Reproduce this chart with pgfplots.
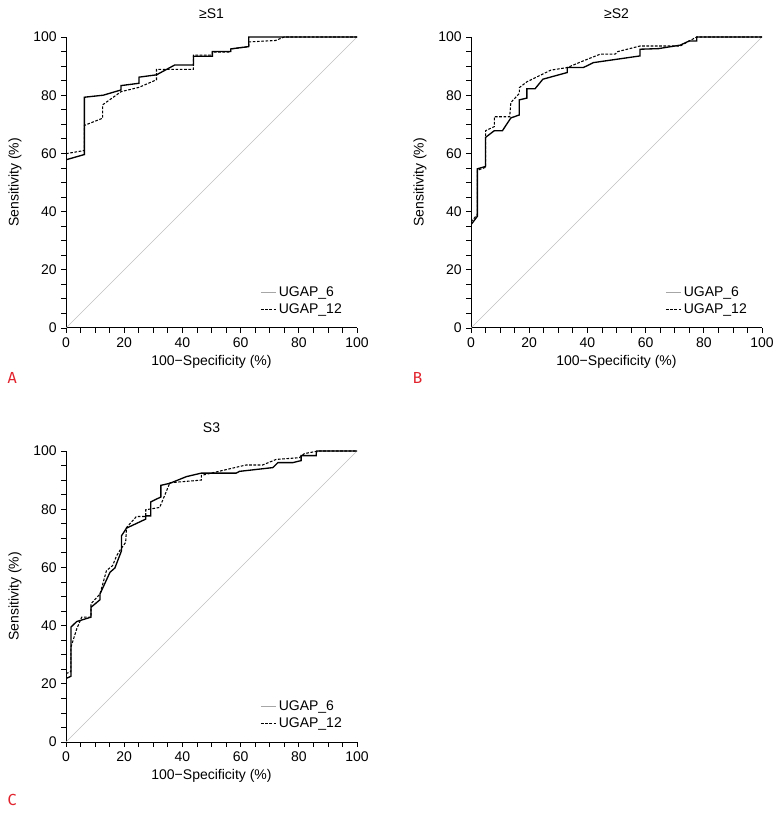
\documentclass[border=0pt]{standalone}
\usepackage{pgfplots}
\pgfplotsset{compat=1.18}
\usepackage{fontspec}
\setmainfont{Liberation Sans}
\newfontfamily\letterfont{Fira Sans}
\definecolor{panelred}{RGB}{225,35,45}

\pgfplotsset{
  roc/.style={
    scale only axis,
    width=218.25pt, height=218.25pt,
    xmin=0, xmax=100, ymin=0, ymax=100,
    axis lines*=left,
    axis line style={-, line width=0.75pt},
    xtick={0,20,...,100}, ytick={0,20,...,100},
    minor tick num=3,
    tick align=outside,
    major tick length=3.5pt, minor tick length=3.5pt,
    tick style={line width=0.6pt, black},
    /pgf/number format/assume math mode=true,
    tick label style={font=\fontsize{10.5}{12}\selectfont},
    label style={font=\fontsize{10.5}{12}\selectfont},
    title style={font=\fontsize{10.5}{12}\selectfont, at={(0.5,1.052)}, anchor=center},
    xlabel={100\textminus Specificity (\%)},
    ylabel={Sensitivity (\%)},
    xlabel style={at={(0.5,-0.117)}, anchor=center},
    ylabel style={at={(-0.175,0.5)}, anchor=center},
    legend style={draw=none, fill=none, at={(0.667,0.152)}, anchor=north west,
      font=\fontsize{10.5}{12}\selectfont, inner sep=0pt, row sep=0pt},
    legend cell align=left,
    legend image code/.code={\draw[#1] (0pt,0pt) -- (11pt,0pt);},
  },
  solidroc/.style={black, line width=1pt, solid},
  dashroc/.style={black, line width=0.8pt, dash pattern=on 2pt off 1.2pt},
  diag/.style={gray!50, line width=0.5pt},
}

\begin{document}
\begin{tikzpicture}[x=0.75pt, y=0.75pt]
\useasboundingbox (0,0) rectangle (781,815);

% A
\begin{axis}[roc, at={(49.5pt,365.25pt)}, anchor=south west, title={≥S1}]
\addplot[diag, forget plot] coordinates {(0,0) (100,100)};
\addplot[solidroc, forget plot] coordinates {
(0,57.8)(6.3,59.6)(6.3,79.3)(12.8,80)(18.9,81.8)(18.9,83.3)(25.1,84.1)(25.1,86.2)
(31.1,87)(37.4,90.4)(43.8,90.4)(43.8,93.4)(50.3,93.4)(50.3,95)(56.6,95)(56.6,95.9)
(62.8,96.7)(62.8,100)(100,100)};
\addplot[dashroc, forget plot] coordinates {
(0,59.9)(6.3,61)(6.3,69.6)(12.6,72.1)(12.6,76.7)(18.9,81.2)(25.1,82.7)(31.1,85.3)
(31.1,88.9)(43.8,88.9)(43.8,93.8)(50.3,93.8)(50.3,94.8)(56.6,94.8)(56.6,95.9)
(62.8,96.7)(62.8,98.3)(72,98.8)(75,100)(100,100)};
\addlegendimage{gray!70, line width=0.8pt}
\addlegendentry{UGAP\_6}
\addlegendimage{dashroc}
\addlegendentry{UGAP\_12}
\end{axis}

% B
\begin{axis}[roc, at={(353.25pt,365.25pt)}, anchor=south west, title={≥S2}]
\addplot[diag, forget plot] coordinates {(0,0) (100,100)};
\addplot[solidroc, forget plot] coordinates {
(0,35.5)(2.2,38.4)(2.2,54.7)(5.0,55.5)(5.0,65.5)(8.0,67.8)(10.8,67.8)(13.7,72.2)
(16.6,73.2)(16.6,78.4)(19.2,79)(19.2,82.2)(22.0,82.2)(24.7,85.5)(33.1,87.8)
(33.1,89.5)(38.6,89.5)(42.1,91.2)(58.1,93.5)(58.1,95.8)(64.4,96)(71.9,97.2)
(74.9,98.6)(77.6,98.6)(77.6,100)(100,100)};
\addplot[dashroc, forget plot] coordinates {
(0,36.5)(2.2,39)(2.2,54.2)(5.0,55.2)(5.0,67.8)(8.0,69.2)(8.0,72.6)(13.3,72.6)
(13.7,77.5)(16.6,80.6)(16.6,82.6)(19.2,84.6)(27.4,88.6)(33.1,89.5)(38.6,91.8)
(44.4,94.1)(49.5,94.1)(50.5,95)(58.1,96.9)(71.9,96.9)(74.9,98.6)(77.6,100)(100,100)};
\addlegendimage{gray!70, line width=0.8pt}
\addlegendentry{UGAP\_6}
\addlegendimage{dashroc}
\addlegendentry{UGAP\_12}
\end{axis}

% C
\begin{axis}[roc, at={(49.5pt,54.75pt)}, anchor=south west, title={S3}]
\addplot[diag, forget plot] coordinates {(0,0) (100,100)};
\addplot[solidroc, forget plot] coordinates {
(0,21.8)(1.7,22.6)(1.7,39.5)(3.7,41.4)(8.6,42.9)(8.6,46.3)(11.7,48.9)(11.7,50.9)
(15.1,58.3)(16.8,59.8)(19.1,65.8)(19.1,70.9)(20.8,73.5)(27.4,76.6)(27.4,77.7)
(29.1,77.7)(29.1,82.5)(32.6,84.2)(32.6,88.2)(35.7,88.9)(41.4,91.2)(46.5,92.4)
(58.5,92.4)(59.6,93)(71.1,94.3)(72.8,96)(77.9,96)(80.8,96.7)(80.8,98.4)(86,98.4)
(86,99.2)(86.2,100)(100,100)};
\addplot[dashroc, forget plot] coordinates {
(0,23.5)(1.7,24.2)(1.7,32.6)(3.7,38.9)(5.4,42.9)(8.6,42.9)(8.6,47.5)(11.7,50.9)
(13.9,58.9)(16.0,60.6)(17.4,64.0)(18.5,65.8)(20.5,68.6)(20.8,73.7)(24.2,77.5)
(27.4,77.5)(27.4,79.8)(32.2,80.6)(35.7,89.1)(46.5,90)(46.5,91.6)(61.9,95.2)
(67.6,95.2)(72.2,97.1)(80.2,97.7)(81.9,99.1)(86.7,100)(100,100)};
\addlegendimage{gray!70, line width=0.8pt}
\addlegendentry{UGAP\_6}
\addlegendimage{dashroc}
\addlegendentry{UGAP\_12}
\end{axis}

\node[anchor=west, text=panelred, font=\letterfont\fontsize{12}{14}\selectfont] at (3,437) {A};
\node[anchor=west, text=panelred, font=\letterfont\fontsize{12}{14}\selectfont] at (408,437) {B};
\node[anchor=west, text=panelred, font=\letterfont\fontsize{12}{14}\selectfont] at (3,15) {C};
\end{tikzpicture}
\end{document}
